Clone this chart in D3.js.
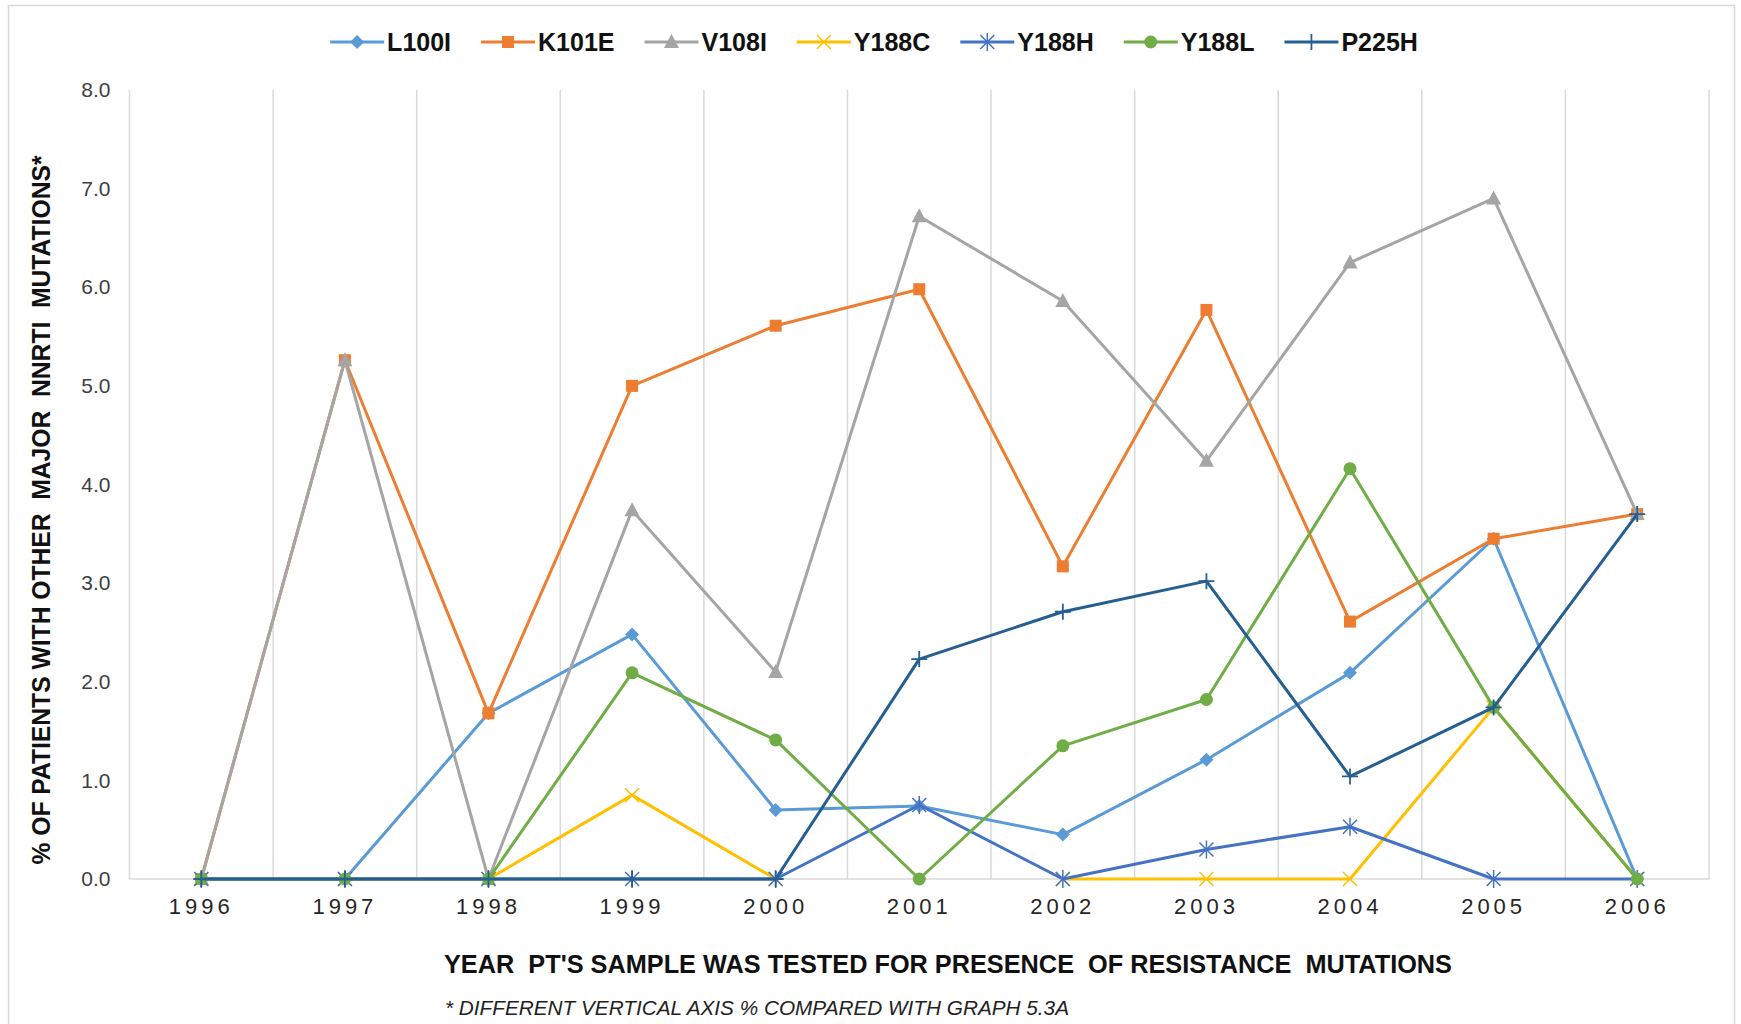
<!DOCTYPE html>
<html>
<head>
<meta charset="utf-8">
<script src="https://cdn.jsdelivr.net/npm/d3@7"></script>
<style>
  body { margin: 0; background: #fff; }
  svg { display: block; font-family: "Liberation Sans", Arial, sans-serif; }
</style>
</head>
<body>
<svg id="chart" width="1741" height="1024"></svg>
<script>
// data (null = no value, gap in the line)
var years = ["1996","1997","1998","1999","2000","2001","2002","2003","2004","2005","2006"];
var yTicks = [0, 1, 2, 3, 4, 5, 6, 7, 8];
var seriesNames = ["L100I","K101E","V108I","Y188C","Y188H","Y188L","P225H"];
var L100I = [0, 0, 1.68, 2.48, 0.70, 0.74, 0.45, 1.21, 2.09, 3.45, 0];
var K101E = [0, 5.26, 1.68, 5.00, 5.61, 5.98, 3.17, 5.77, 2.61, 3.45, 3.70];
var V108I = [0, 5.26, 0, 3.74, 2.10, 6.72, 5.86, 4.24, 6.25, 6.90, 3.70];
var Y188C = [0, 0, 0, 0.85, 0, null, 0, 0, 0, 1.74, 0];
var Y188H = [0, 0, 0, 0, 0, 0.75, 0, 0.30, 0.53, 0, 0];
var Y188L = [0, 0, 0, 2.09, 1.41, 0, 1.35, 1.82, 4.16, 1.74, 0];
var P225H = [0, 0, 0, 0, 0, 2.23, 2.71, 3.02, 1.04, 1.74, 3.70];

var values = [L100I, K101E, V108I, Y188C, Y188H, Y188L, P225H];
var colors = ["#5B9BD5","#ED7D31","#A5A5A5","#FFC000","#4472C4","#70AD47","#255E91"];
var shapes = ["diamond","square","triangle","x","asterisk","circle","plus"];

var svg = d3.select("#chart");
var grid = "#D9D9D9";

// chart area border
svg.append("rect")
  .attr("x", 8.5).attr("y", 5.5).attr("width", 1726).attr("height", 1030)
  .attr("fill", "none").attr("stroke", grid).attr("stroke-width", 1.5);

var plotLeft = 129.5, plotRight = 1709, plotTop = 90, plotBottom = 879;

var x = d3.scaleBand().domain(years).range([plotLeft, plotRight]).paddingInner(0).paddingOuter(0);
var y = d3.scaleLinear().domain([0, 8]).range([plotBottom, plotTop]);
var cx = function(d) { return x(d) + x.bandwidth() / 2; };

// vertical gridlines at category edges
var edges = years.map(function(d) { return x(d); }).concat([plotRight]);
svg.append("g").selectAll("line")
  .data(edges)
  .enter().append("line")
    .attr("x1", function(d) { return d; }).attr("x2", function(d) { return d; })
    .attr("y1", plotTop).attr("y2", plotBottom)
    .attr("stroke", grid).attr("stroke-width", 1.5);

// x baseline
svg.append("line")
  .attr("x1", plotLeft).attr("x2", plotRight).attr("y1", plotBottom).attr("y2", plotBottom)
  .attr("stroke", grid).attr("stroke-width", 1.5);

// y axis
var yAxis = svg.append("g")
  .attr("transform", "translate(" + plotLeft + ",0)")
  .call(d3.axisLeft(y).tickValues(yTicks).tickFormat(d3.format(".1f")).tickSize(0).tickPadding(19));
yAxis.select(".domain").remove();
yAxis.selectAll("text")
  .attr("font-size", 21).attr("fill", "#404040")
  .attr("font-family", "'Liberation Sans', Arial, sans-serif");

// x axis
var xAxis = svg.append("g")
  .attr("transform", "translate(0," + plotBottom + ")")
  .call(d3.axisBottom(x).tickSize(0).tickPadding(19));
xAxis.select(".domain").remove();
xAxis.selectAll("text")
  .attr("font-size", 22).attr("fill", "#262626")
  .attr("letter-spacing", "4px")
  .attr("font-family", "'Liberation Sans', Arial, sans-serif");

// marker drawing
function marker(g, shape, color, px, py) {
  if (shape == "diamond") {
    g.append("path").attr("d", "M" + px + "," + (py - 7) + "L" + (px + 7) + "," + py + "L" + px + "," + (py + 7) + "L" + (px - 7) + "," + py + "Z")
      .attr("fill", color);
  } else if (shape == "square") {
    g.append("rect").attr("x", px - 6).attr("y", py - 6).attr("width", 12).attr("height", 12).attr("fill", color);
  } else if (shape == "triangle") {
    g.append("path").attr("d", "M" + px + "," + (py - 8) + "L" + (px + 7.5) + "," + (py + 6) + "L" + (px - 7.5) + "," + (py + 6) + "Z")
      .attr("fill", color);
  } else if (shape == "circle") {
    g.append("circle").attr("cx", px).attr("cy", py).attr("r", 6.5).attr("fill", color);
  } else if (shape == "x") {
    g.append("path").attr("d", "M" + (px - 7) + "," + (py - 7) + "L" + (px + 7) + "," + (py + 7) + "M" + (px + 7) + "," + (py - 7) + "L" + (px - 7) + "," + (py + 7))
      .attr("stroke", color).attr("stroke-width", 1.5).attr("fill", "none");
  } else if (shape == "asterisk") {
    g.append("path").attr("d", "M" + (px - 7) + "," + (py - 7) + "L" + (px + 7) + "," + (py + 7) + "M" + (px + 7) + "," + (py - 7) + "L" + (px - 7) + "," + (py + 7) + "M" + px + "," + (py - 9) + "L" + px + "," + (py + 9))
      .attr("stroke", color).attr("stroke-width", 1.5).attr("fill", "none");
  } else if (shape == "plus") {
    g.append("path").attr("d", "M" + (px - 8) + "," + py + "L" + (px + 8) + "," + py + "M" + px + "," + (py - 8) + "L" + px + "," + (py + 8))
      .attr("stroke", color).attr("stroke-width", 1.8).attr("fill", "none");
  }
}

var line = d3.line()
  .defined(function(d) { return d != null; })
  .x(function(d, i) { return cx(years[i]); })
  .y(function(d) { return y(d); });

// series, drawn in legend order
seriesNames.forEach(function(name, k) {
  var g = svg.append("g");
  g.append("path")
    .datum(values[k])
    .attr("d", line)
    .attr("fill", "none")
    .attr("stroke", colors[k])
    .attr("stroke-width", 3)
    .attr("stroke-linejoin", "round");
  values[k].forEach(function(v, i) {
    if (v != null) marker(g, shapes[k], colors[k], cx(years[i]), y(v));
  });
});

// legend
var legend = svg.append("g");
var lx = 0;
seriesNames.forEach(function(name, k) {
  var item = legend.append("g").attr("transform", "translate(" + lx + ",0)");
  item.append("line").attr("x1", 0).attr("x2", 54).attr("y1", 0).attr("y2", 0)
    .attr("stroke", colors[k]).attr("stroke-width", 3);
  marker(item, shapes[k], colors[k], 27, 0);
  var t = item.append("text").attr("x", 57).attr("y", 9)
    .attr("font-size", 25).attr("font-weight", "bold").attr("fill", "#111")
    .text(name);
  lx += 57 + t.node().getComputedTextLength() + 30;
});
var legendW = lx - 30;
legend.attr("transform", "translate(" + (874 - legendW / 2) + ",42)");

// axis titles
svg.append("text")
  .attr("x", 948).attr("y", 973)
  .attr("text-anchor", "middle")
  .attr("font-size", 25).attr("font-weight", "bold").attr("fill", "#111")
  .attr("textLength", 1008).attr("lengthAdjust", "spacingAndGlyphs")
  .attr("xml:space", "preserve")
  .text("YEAR  PT'S SAMPLE WAS TESTED FOR PRESENCE  OF RESISTANCE  MUTATIONS");

svg.append("text")
  .attr("transform", "translate(50,510) rotate(-90)")
  .attr("text-anchor", "middle")
  .attr("font-size", 25).attr("font-weight", "bold").attr("fill", "#111")
  .attr("textLength", 709).attr("lengthAdjust", "spacingAndGlyphs")
  .attr("xml:space", "preserve")
  .text("% OF PATIENTS WITH OTHER  MAJOR  NNRTI  MUTATIONS*");

svg.append("text")
  .attr("x", 445).attr("y", 1015)
  .attr("font-size", 20).attr("font-style", "italic").attr("fill", "#222")
  .attr("textLength", 624).attr("lengthAdjust", "spacingAndGlyphs")
  .text("* DIFFERENT VERTICAL AXIS % COMPARED WITH GRAPH 5.3A");
</script>
</body>
</html>
